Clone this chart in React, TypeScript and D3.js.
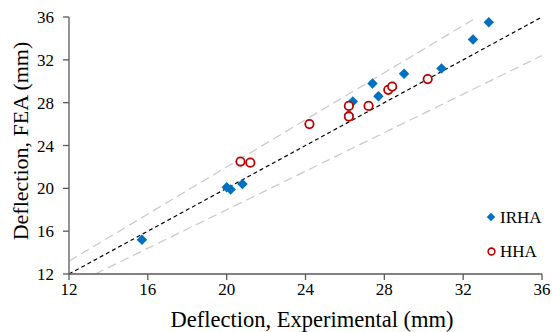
import React from "react";
import * as d3 from "d3";

const irhaX = [15.7, 20.0, 20.2, 20.8, 26.2, 26.4, 27.4, 27.7, 29.0, 30.9, 32.5, 33.3];
const irhaY = [15.2, 20.1, 19.9, 20.4, 26.9, 28.1, 29.8, 28.6, 30.7, 31.2, 33.9, 35.5];
const hhaX = [20.7, 21.2, 24.2, 26.2, 26.2, 27.2, 28.2, 28.4, 30.2];
const hhaY = [22.5, 22.4, 26.0, 27.7, 26.7, 27.7, 29.2, 29.5, 30.2];
const ticks = [12, 16, 20, 24, 28, 32, 36];
const seriesNames = ["IRHA", "HHA"];
const bandFactors = [1.1, 0.9];

const W = 552, H = 332;
const left = 69, right = 542, top = 17, bottom = 274;
const font = "'Liberation Serif', 'Times New Roman', serif";

export default function App() {
  const x = d3.scaleLinear().domain([12, 36]).range([left, right]);
  const y = d3.scaleLinear().domain([12, 36]).range([bottom, top]);
  const axisColor = "#595959";
  const diamond = d3.symbol().type(d3.symbolDiamond2).size(70)();
  const diamondLeg = d3.symbol().type(d3.symbolDiamond2).size(46)();

  const bandLine = (f: number) => {
    const x0 = Math.max(12, 12 / f);
    const x1 = Math.min(36, 36 / f);
    return { x1: x(x0), y1: y(x0 * f), x2: x(x1), y2: y(x1 * f) };
  };

  return (
    <svg width={W} height={H} style={{ position: "absolute", left: 0, top: 0, background: "#fff" }}>
      {bandFactors.map((f, i) => {
        const l = bandLine(f);
        return <line key={i} {...l} stroke="#c8c8c8" strokeWidth={1.2} strokeDasharray="9,5" />;
      })}
      <line x1={x(12)} y1={y(12)} x2={x(36)} y2={y(36)} stroke="#000" strokeWidth={1.2} strokeDasharray="4,3" />

      <line x1={left} y1={bottom} x2={right} y2={bottom} stroke={axisColor} strokeWidth={1.3} />
      <line x1={left} y1={bottom} x2={left} y2={top} stroke={axisColor} strokeWidth={1.3} />
      {ticks.map((t) => (
        <g key={"x" + t}>
          <line x1={x(t)} x2={x(t)} y1={bottom} y2={bottom + 6} stroke={axisColor} strokeWidth={1.3} />
          <text x={x(t)} y={bottom + 21} textAnchor="middle" fontFamily={font} fontSize={17} fill="#000">{t}</text>
        </g>
      ))}
      {ticks.map((t) => (
        <g key={"y" + t}>
          <line x1={left - 6} x2={left} y1={y(t)} y2={y(t)} stroke={axisColor} strokeWidth={1.3} />
          <text x={54} y={y(t) + 6} textAnchor="end" fontFamily={font} fontSize={17} fill="#000">{t}</text>
        </g>
      ))}

      {irhaX.map((v, i) => (
        <path key={"i" + i} d={diamond!} transform={`translate(${x(v)},${y(irhaY[i])})`} fill="#0070c0" />
      ))}
      {hhaX.map((v, i) => (
        <circle key={"h" + i} cx={x(v)} cy={y(hhaY[i])} r={4.2} fill="#fff" stroke="#c00000" strokeWidth={1.8} />
      ))}

      <path d={diamondLeg!} transform="translate(491,217)" fill="#0070c0" />
      <text x={500} y={223} fontFamily={font} fontSize={17} fill="#000">{seriesNames[0]}</text>
      <circle cx={491.5} cy={251.5} r={3.4} fill="#fff" stroke="#c00000" strokeWidth={1.6} />
      <text x={500} y={257} fontFamily={font} fontSize={17} fill="#000">{seriesNames[1]}</text>

      <text x={312} y={327} textAnchor="middle" fontFamily={font} fontSize={22.5} fill="#000">Deflection, Experimental (mm)</text>
      <text transform={`translate(28,${141}) rotate(-90)`} textAnchor="middle" fontFamily={font} fontSize={22} fill="#000">Deflection, FEA (mm)</text>
    </svg>
  );
}
